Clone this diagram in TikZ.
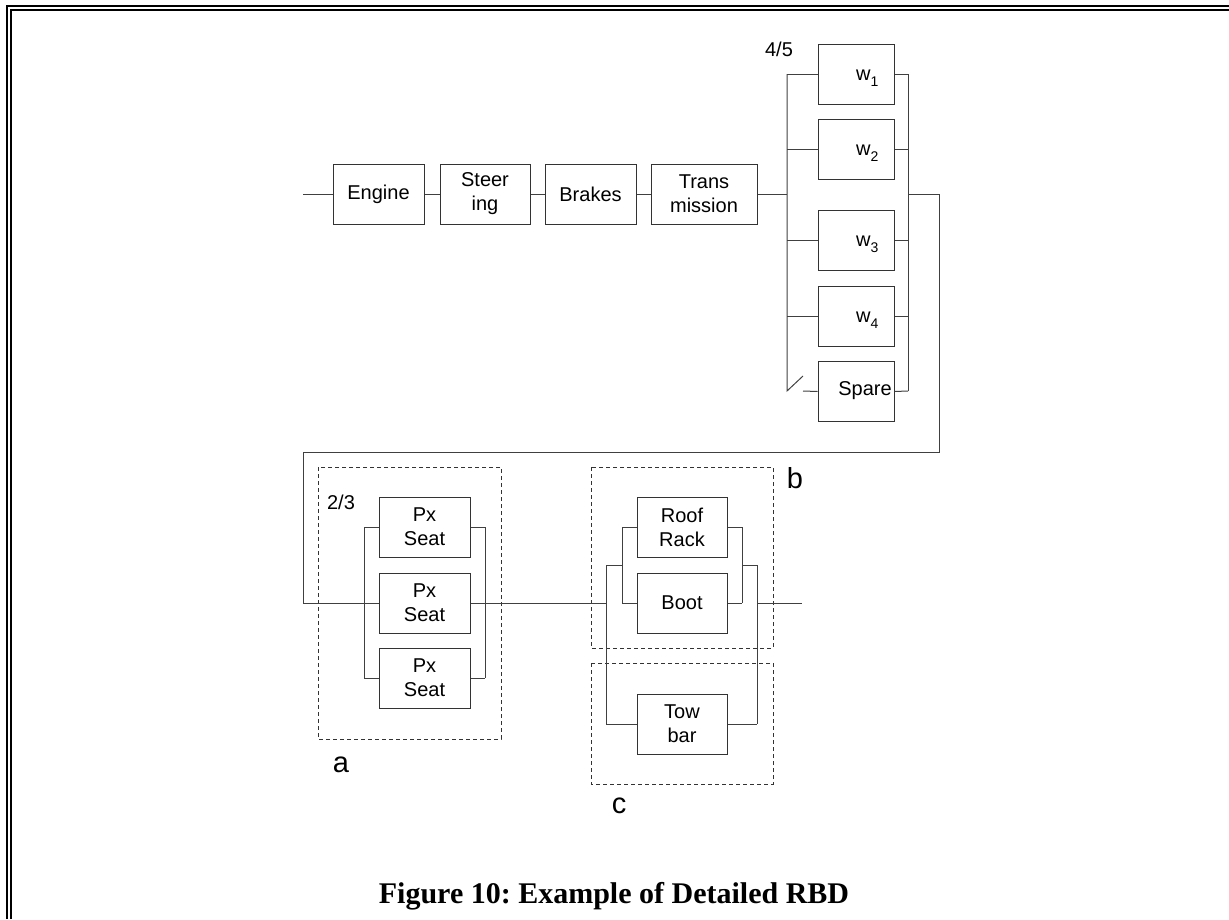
\documentclass[tikz,border=0pt]{standalone}
\usepackage{fontspec}
\setmainfont{Liberation Serif}
\newfontfamily\arial{Liberation Sans}
\newcommand{\wsub}[1]{w\raisebox{-6pt}{\fontsize{14}{14}\selectfont #1}}
\begin{document}
\frenchspacing
\begin{tikzpicture}[x=1pt,y=-1pt,
  wire/.style={line width=1pt,draw=black!75},
  blk/.style={draw=black!80,line width=1pt,minimum height=60pt,inner sep=0pt,align=center,
    font=\arial\fontsize{20}{24}\selectfont},
  grp/.style={draw=black!80,line width=0.9pt,dash pattern=on 4pt off 3pt},
  lbl/.style={inner sep=0pt,font=\arial\fontsize{20}{24}\selectfont},
  biglbl/.style={inner sep=0pt,anchor=base,font=\arial\fontsize{29}{34}\selectfont},
  frame/.style={line width=2pt,draw=black}]
\useasboundingbox (0,0) rectangle (1229,919);
% page frame
\draw[frame] (7,919) -- (7,6) -- (1229,6);
\draw[frame] (11,919) -- (11,10) -- (1229,10);

% series chain
\coordinate (in) at (303,194);
\node[blk,minimum width=91pt] (eng) at (378.5,194) {Engine};
\node[blk,minimum width=90pt] (ste) at (485,194) {Steer\\ing};
\node[blk,minimum width=91pt] (bra) at (590.5,194) {Brakes};
\node[blk,minimum width=106pt] (tra) at (704,194) {Trans\\mission};
\draw[wire] (in) -- (eng.west);
\draw[wire] (eng.east) -- (ste.west);
\draw[wire] (ste.east) -- (bra.west);
\draw[wire] (bra.east) -- (tra.west);

% wheels 4/5
\coordinate (wl1) at (787,74);  \coordinate (wr1) at (908,74);
\coordinate (wl2) at (787,149); \coordinate (wr2) at (908,149);
\coordinate (wl3) at (787,240); \coordinate (wr3) at (908,240);
\coordinate (wl4) at (787,316); \coordinate (wr4) at (908,316);
\coordinate (wl5) at (787,391); \coordinate (wr5) at (908,391);
\coordinate (sw) at (803,376);  \coordinate (swe) at (803,391);
\coordinate (wlm) at (787,194); \coordinate (wrm) at (908,194);
\node[blk,minimum width=76pt] (w1) at (856,74) {};
\node[blk,minimum width=76pt] (w2) at (856,149) {};
\node[blk,minimum width=76pt] (w3) at (856,240) {};
\node[blk,minimum width=76pt] (w4) at (856,316) {};
\node[blk,minimum width=76pt] (sp) at (856,391.5) {};
\node[lbl,anchor=base west] (w1t) at (856,80) {\wsub{1}};
\node[lbl,anchor=base west] (w2t) at (856,155) {\wsub{2}};
\node[lbl,anchor=base west] (w3t) at (856,246) {\wsub{3}};
\node[lbl,anchor=base west] (w4t) at (856,322) {\wsub{4}};
\node[lbl] (spt) at (865,391) {Spare};
\node[lbl] (k45) at (779,49) {4/5};
\draw[wire] (tra.east) -- (wlm);
\draw[wire] (wl1) -- (wl5) -- (sw);
\draw[wire] (swe) -- (sp.west);
\draw[wire] (wr1) -- (wr5);
\foreach \i/\n in {1/w1,2/w2,3/w3,4/w4}{
  \draw[wire] (wl\i) -- (\n.west);
  \draw[wire] (\n.east) -- (wr\i);
}
\draw[wire] (sp.east) -- (wr5);

% link down
\coordinate (c1) at (939,194);
\coordinate (c2) at (939,452);
\coordinate (c3) at (303,452);
\coordinate (c4) at (303,603);
\draw[wire] (wrm) -- (c1) -- (c2) -- (c3) -- (c4);

% seats 2/3
\draw[grp] (318,467) rectangle (501,739);
\node[lbl] (k23) at (341,502) {2/3};
\node[biglbl] (la) at (341,772) {a};
\node[blk,minimum width=91pt] (s1) at (424.5,527) {Px\\Seat};
\node[blk,minimum width=91pt] (s2) at (424.5,603) {Px\\Seat};
\node[blk,minimum width=91pt] (s3) at (424.5,678) {Px\\Seat};
\coordinate (sl1) at (364,527); \coordinate (sr1) at (485,527);
\coordinate (sl2) at (364,603); \coordinate (sr2) at (485,603);
\coordinate (sl3) at (364,678); \coordinate (sr3) at (485,678);
\draw[wire] (sl1) -- (sl3);
\draw[wire] (sr1) -- (sr3);
\draw[wire] (sl1) -- (s1.west); \draw[wire] (s1.east) -- (sr1);
\draw[wire] (sl3) -- (s3.west); \draw[wire] (s3.east) -- (sr3);
\draw[wire] (c4) -- (s2.west);

% roof rack / boot / tow bar
\draw[grp] (591,467) rectangle (773,648);
\draw[grp] (591,663) rectangle (773,784);
\node[biglbl] (lb) at (795,488) {b};
\node[biglbl] (lc) at (619,813) {c};
\node[blk,minimum width=90pt] (rr) at (682,527) {Roof\\Rack};
\node[blk,minimum width=90pt] (bo) at (682,603) {Boot};
\node[blk,minimum width=90pt] (tb) at (682,724) {Tow\\bar};
\coordinate (ol1) at (606,565); \coordinate (ol2) at (606,603); \coordinate (ol3) at (606,724);
\coordinate (or1) at (757,565); \coordinate (or2) at (757,603); \coordinate (or3) at (757,724);
\coordinate (il1) at (622,527); \coordinate (il2) at (622,565); \coordinate (il3) at (622,603);
\coordinate (ir1) at (742,527); \coordinate (ir2) at (742,565); \coordinate (ir3) at (742,603);
\coordinate (out) at (802,603);
\draw[wire] (s2.east) -- (ol2);
\draw[wire] (ol1) -- (ol3);
\draw[wire] (or1) -- (or3);
\draw[wire] (il1) -- (il3);
\draw[wire] (ir1) -- (ir3);
\draw[wire] (ol1) -- (il2);
\draw[wire] (ir2) -- (or1);
\draw[wire] (il1) -- (rr.west); \draw[wire] (rr.east) -- (ir1);
\draw[wire] (il3) -- (bo.west); \draw[wire] (bo.east) -- (ir3);
\draw[wire] (ol3) -- (tb.west); \draw[wire] (tb.east) -- (or3);
\draw[wire] (or2) -- (out);

% caption
\node[anchor=base,inner sep=0pt,font=\bfseries\fontsize{30}{36}\selectfont] (cap) at (614,903) {Figure 10: Example of Detailed RBD};
\end{tikzpicture}
\end{document}
